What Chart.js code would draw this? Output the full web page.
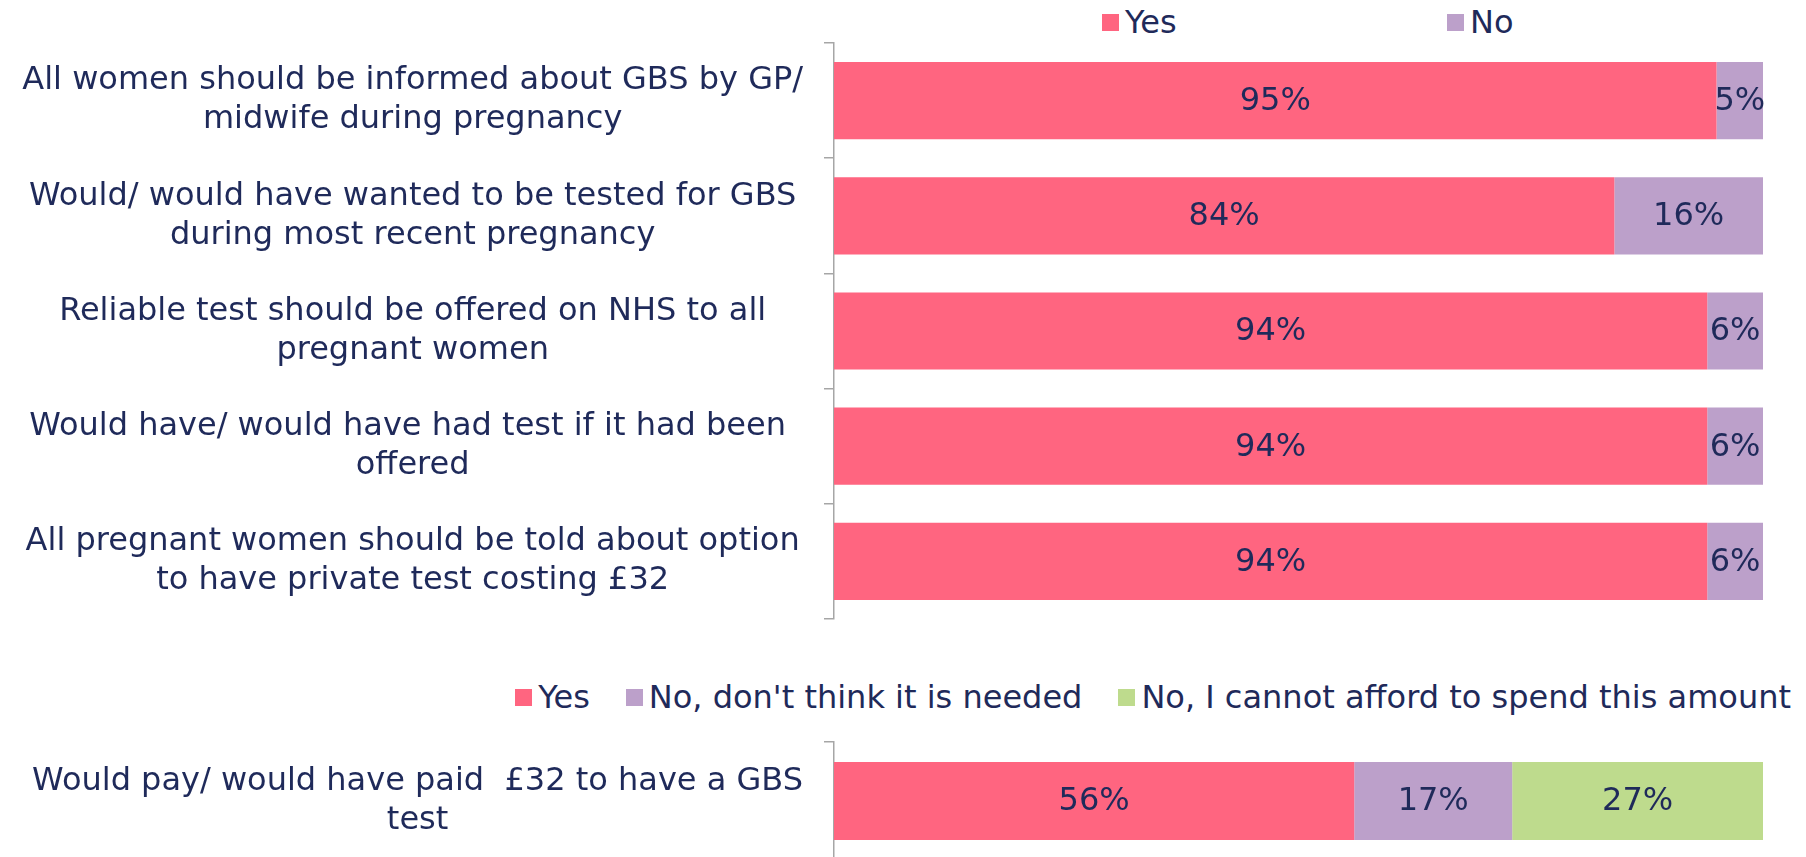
<!DOCTYPE html>
<html>
<head>
<meta charset="utf-8">
<script src="https://cdn.jsdelivr.net/npm/chart.js@4.4.1/dist/chart.umd.min.js"></script>
<style>
    html, body { margin: 0; padding: 0; background: #fff; width: 1806px; height: 857px; overflow: hidden; }
    body { position: relative; font-family: "DejaVu Sans", Verdana, sans-serif; color: #1f2a5a; }
    canvas { position: absolute; left: 0; }
    .leyenda { position: absolute; display: flex; align-items: center; font-size: 32px; white-space: nowrap; }
    .leyenda .item { display: flex; align-items: center; }
    .leyenda .cuadro { width: 17px; height: 17px; margin-right: 6px; display: inline-block; }
</style>
</head>
<body>

<div id="leyenda-top" class="leyenda" style="left:1102px; top:2px; height:40px;"></div>
<canvas id="chart1" width="1806" height="660" style="top:0;"></canvas>

<div id="leyenda-bottom" class="leyenda" style="right:15px; top:677px; height:40px;"></div>
<canvas id="chart2" width="1806" height="200" style="top:660px;"></canvas>

<script>
//--------------------------------------DATOS
var preguntas = [
    ["All women should be informed about GBS by GP/", "midwife during pregnancy"],
    ["Would/ would have wanted to be tested for GBS", "during most recent pregnancy"],
    ["Reliable test should be offered on NHS to all", "pregnant women"],
    ["Would have/ would have had test if it had been ", "offered"],
    ["All pregnant women should be told about option", "to have private test costing £32"]
];
var valoresSi = [95, 84, 94, 94, 94];
var valoresNo = [5, 16, 6, 6, 6];

var preguntaPago = [["Would pay/ would have paid  £32 to have a GBS", "test"]];
var pagoSi = [56];
var pagoNoNecesario = [17];
var pagoNoPuede = [27];

var colorSi = "rgb(255,101,128)";
var colorNo = "rgb(188,160,202)";
var colorVerde = "rgb(190,219,141)";
var colorTexto = "#1f2a5a";
var colorEje = "#a6a6a6";
var fuente = "'DejaVu Sans', Verdana, sans-serif";

//--------------------------------------LEYENDAS
function leyenda(id, items, anchoItem, separacion) {
    var html = "";
    for (var i = 0; i < items.length; i++) {
        var estilo = anchoItem ? "width:" + anchoItem + "px;" : "";
        if (!anchoItem && i > 0) {
            estilo += "margin-left:" + separacion + "px;";
        }
        html += "<div class='item' style='" + estilo + "'><span class='cuadro' style='background:" + items[i].color + "'></span>" + items[i].texto + "</div>";
    }
    document.getElementById(id).innerHTML = html;
}

leyenda("leyenda-top", [{texto: "Yes", color: colorSi}, {texto: "No", color: colorNo}], 345, 0);
leyenda("leyenda-bottom", [
    {texto: "Yes", color: colorSi},
    {texto: "No, don't think it is needed", color: colorNo},
    {texto: "No, I cannot afford to spend this amount", color: colorVerde}
], 0, 36);

//--------------------------------------ETIQUETAS
var etiquetasBarras = {
    id: "etiquetasBarras",
    afterDatasetsDraw: function (chart) {
        var ctx = chart.ctx;
        ctx.save();
        ctx.font = "32px " + fuente;
        ctx.fillStyle = colorTexto;
        ctx.textAlign = "center";
        ctx.textBaseline = "middle";
        chart.data.datasets.forEach(function (ds, i) {
            var meta = chart.getDatasetMeta(i);
            meta.data.forEach(function (bar, j) {
                var x = (bar.x + bar.base) / 2;
                ctx.fillText(ds.data[j] + "%", x, bar.y + 1);
            });
        });
        ctx.restore();
    }
};

function opciones(paddingTop, paddingBottom) {
    return {
        indexAxis: "y",
        responsive: false,
        maintainAspectRatio: false,
        animation: false,
        devicePixelRatio: 1,
        layout: {padding: {top: paddingTop, bottom: paddingBottom, left: 0, right: 43}},
        plugins: {
            legend: {display: false},
            tooltip: {enabled: false}
        },
        scales: {
            x: {stacked: true, min: 0, max: 100, display: false},
            y: {
                stacked: true,
                offset: true,
                afterFit: function (scale) {
                    scale.width = 834;
                    scale.paddingTop = 0;
                    scale.paddingBottom = 0;
                },
                grid: {
                    offset: true,
                    drawOnChartArea: false,
                    drawTicks: true,
                    tickLength: 10,
                    color: colorEje,
                    lineWidth: 1.5
                },
                border: {display: true, color: colorEje, width: 1.5},
                ticks: {
                    crossAlign: "center",
                    padding: 21,
                    color: colorTexto,
                    font: {family: fuente, size: 32, lineHeight: 1.22}
                }
            }
        }
    };
}

//--------------------------------------GRAFICA 1
var barChart = new Chart(document.getElementById("chart1"), {
    type: "bar",
    data: {
        labels: preguntas,
        datasets: [{
            label: "Yes",
            data: valoresSi,
            backgroundColor: colorSi,
            barPercentage: 0.67,
            categoryPercentage: 1
        }, {
            label: "No",
            data: valoresNo,
            backgroundColor: colorNo,
            barPercentage: 0.67,
            categoryPercentage: 1
        }]
    },
    options: opciones(43, 41),
    plugins: [etiquetasBarras]
});

//--------------------------------------GRAFICA 2
var barChart2 = new Chart(document.getElementById("chart2"), {
    type: "bar",
    data: {
        labels: preguntaPago,
        datasets: [{
            label: "Yes",
            data: pagoSi,
            backgroundColor: colorSi,
            barPercentage: 0.66,
            categoryPercentage: 1
        }, {
            label: "No, don't think it is needed",
            data: pagoNoNecesario,
            backgroundColor: colorNo,
            barPercentage: 0.66,
            categoryPercentage: 1
        }, {
            label: "No, I cannot afford to spend this amount",
            data: pagoNoPuede,
            backgroundColor: colorVerde,
            barPercentage: 0.66,
            categoryPercentage: 1
        }]
    },
    options: opciones(82, 0),
    plugins: [etiquetasBarras]
});
</script>
</body>
</html>
